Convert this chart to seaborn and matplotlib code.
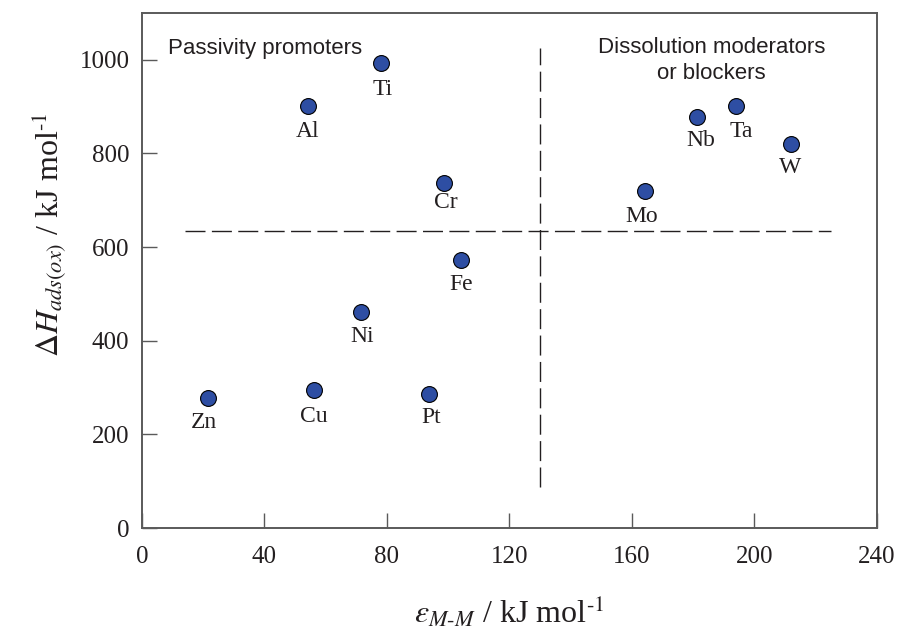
import matplotlib
matplotlib.use('Agg')
import matplotlib.pyplot as plt
import pandas as pd
import seaborn as sns

# metals: metal-metal bond energy vs. heat of oxygen adsorption
METALS = ['Ti', 'Al', 'Cr', 'Fe', 'Ni', 'Zn', 'Cu', 'Pt', 'Mo', 'Nb', 'Ta', 'W']
E_MM = [78.2, 54.2, 98.8, 104.1, 71.4, 21.6, 56.2, 93.9, 164.2, 181.2, 194.1, 211.8]
DH_ADS = [993, 901, 737, 572, 462, 278, 294, 286, 720, 877, 901, 820]

# boundaries between the two groups
SPLIT_X = 130
SPLIT_Y = 635
SPLIT_Y_SPAN = [88, 1026]
SPLIT_X_SPAN = [14, 225]

X_TICKS = [0, 40, 80, 120, 160, 200, 240]
Y_TICKS = [0, 200, 400, 600, 800, 1000]

# label offsets below each dot (pixels)
LABEL_DX = [1, 0, 1, 0, 2, -4, 0, 2, -3, 4, 5, 0]
LABEL_DY = [-32, -31, -25, -30, -30, -30, -32, -29, -31, -29, -31, -29]

DOT_COLOR = '#2E4EA3'
INK = '#231F20'
SPINE = '#5A5A5A'


def main():
    sns.set_theme(style='ticks')
    plt.rcParams['font.family'] = ['Liberation Serif', 'DejaVu Serif']
    plt.rcParams['mathtext.fontset'] = 'stix'

    data = pd.DataFrame({'metal': METALS, 'e_mm': E_MM, 'dh': DH_ADS})

    fig = plt.figure(figsize=(8.98, 6.35), dpi=100)
    ax = fig.add_axes([0.158, 0.1685, 0.8185, 0.811])

    ax.vlines(SPLIT_X, *SPLIT_Y_SPAN, colors=INK, linewidth=1.0,
              linestyles=(0, (14.4, 4.6)))
    ax.hlines(SPLIT_Y, *SPLIT_X_SPAN, colors=INK, linewidth=1.0,
              linestyles=(0, (14.4, 4.6)))

    sns.scatterplot(x='e_mm', y='dh', data=data, ax=ax, s=130,
                    color=DOT_COLOR, edgecolor='black', linewidth=0.8,
                    zorder=3, legend=False)

    for name, x, y, dx, dy in zip(METALS, E_MM, DH_ADS, LABEL_DX, LABEL_DY):
        ax.annotate(name, (x, y), xytext=(dx * 0.72, dy * 0.72),
                    textcoords='offset points', ha='center', va='baseline',
                    fontsize=17, color=INK)

    ax.text(8.4, 1012, 'Passivity promoters', family=['Liberation Sans'],
            fontsize=16, color=INK, ha='left', va='baseline')
    ax.text(186, 959, 'Dissolution moderators\nor blockers',
            family=['Liberation Sans'], fontsize=16, color=INK,
            ha='center', va='baseline', linespacing=1.3)

    ax.set_xlim(0, 240)
    ax.set_ylim(0, 1100)
    ax.set_xticks(X_TICKS)
    ax.set_yticks(Y_TICKS)
    ax.tick_params(direction='in', length=10.5, width=1.0, color=SPINE,
                   labelsize=18, labelcolor=INK)
    ax.tick_params(axis='x', pad=13)
    ax.tick_params(axis='y', pad=9)
    for sp in ax.spines.values():
        sp.set_color(SPINE)
        sp.set_linewidth(1.4)

    ax.set_xlabel(r'$\varepsilon_{M\text{-}M}$ / kJ mol$^{\text{-}1}$',
                  fontsize=23, color=INK)
    ax.set_ylabel(r'$\Delta H_{ads(ox)}$ / kJ mol$^{\text{-}1}$',
                  fontsize=23, color=INK)
    ax.xaxis.set_label_coords(0.5, -0.128)
    ax.yaxis.set_label_coords(-0.1, 0.569)

    fig.savefig('out.png', dpi=100)


if __name__ == '__main__':
    main()
